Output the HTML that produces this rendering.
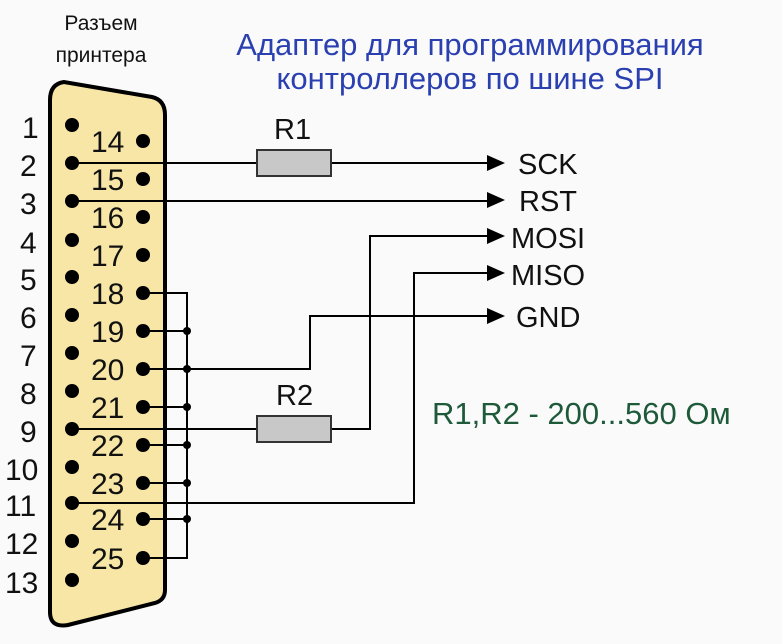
<!DOCTYPE html>
<html><head><meta charset="utf-8"><style>
body{margin:0;background:#fafafa;}
svg{display:block}
text{font-family:"Liberation Sans",sans-serif;}
</style></head><body>
<svg width="782" height="644" viewBox="0 0 782 644">
<rect width="782" height="644" fill="#fafafa"/>
<text x="101" y="30" font-size="21" text-anchor="middle" fill="#111">Разъем</text>
<text x="101" y="62" font-size="21" text-anchor="middle" fill="#111">принтера</text>
<text x="470" y="55" font-size="31" text-anchor="middle" fill="#2a3fb0">Адаптер для программирования</text>
<text x="470" y="89" font-size="31" text-anchor="middle" fill="#2a3fb0">контроллеров по шине SPI</text>
<path d="M50,100 Q50,84 64,82 L152,97 Q165,100 165,115 L165,590 Q165,600 155,603 L68,625 Q50,628 50,612 Z" fill="#f7e6a6" stroke="#000" stroke-width="4"/>
<g font-size="30" fill="#111">
<text x="22" y="138">1</text><text x="20" y="176">2</text><text x="20" y="214">3</text><text x="20" y="253">4</text><text x="20" y="290">5</text><text x="20" y="328">6</text><text x="20" y="366">7</text><text x="20" y="404">8</text><text x="20" y="442">9</text><text x="5" y="480">10</text><text x="5" y="516">11</text><text x="5" y="554">12</text><text x="5" y="593">13</text>
<text x="91" y="152">14</text><text x="91" y="190">15</text><text x="91" y="228">16</text><text x="91" y="266">17</text><text x="91" y="304">18</text><text x="91" y="342">19</text><text x="91" y="380">20</text><text x="91" y="418">21</text><text x="91" y="456">22</text><text x="91" y="494">23</text><text x="91" y="530">24</text><text x="91" y="569">25</text>
</g>
<g fill="#000">
<circle cx="72" cy="125" r="7"/><circle cx="72" cy="163" r="7"/><circle cx="72" cy="201" r="7"/><circle cx="72" cy="240" r="7"/><circle cx="72" cy="277" r="7"/><circle cx="72" cy="315" r="7"/><circle cx="72" cy="353" r="7"/><circle cx="72" cy="391" r="7"/><circle cx="72" cy="429" r="7"/><circle cx="72" cy="467" r="7"/><circle cx="72" cy="503" r="7"/><circle cx="72" cy="541" r="7"/><circle cx="72" cy="580" r="7"/>
<circle cx="143" cy="141" r="7"/><circle cx="143" cy="179" r="7"/><circle cx="143" cy="217" r="7"/><circle cx="143" cy="255" r="7"/><circle cx="143" cy="293" r="7"/><circle cx="143" cy="331" r="7"/><circle cx="143" cy="369" r="7"/><circle cx="143" cy="407" r="7"/><circle cx="143" cy="445" r="7"/><circle cx="143" cy="483" r="7"/><circle cx="143" cy="519" r="7"/><circle cx="143" cy="558" r="7"/>
<circle cx="187" cy="331" r="4"/><circle cx="187" cy="369" r="4"/><circle cx="187" cy="407" r="4"/><circle cx="187" cy="445" r="4"/><circle cx="187" cy="483" r="4"/><circle cx="187" cy="519" r="4"/>
</g>
<g stroke="#000" stroke-width="2" fill="none">
<path d="M143,293H187V558H143"/>
<path d="M143,331H187M143,369H187M143,407H187M143,445H187M143,483H187M143,519H187"/>
<path d="M72,163H257M331,163H490"/>
<path d="M72,201H490"/>
<path d="M187,369H310V316H490"/>
<path d="M72,429H257M331,429H370V236H490"/>
<path d="M72,503H414V273H490"/>
</g>
<g fill="#000">
<path d="M505,163L487,155L487,171Z"/><path d="M505,200L487,192L487,208Z"/><path d="M505,236L487,228L487,244Z"/><path d="M505,273L487,265L487,281Z"/><path d="M505,316L487,308L487,324Z"/>
</g>
<rect x="257" y="150" width="74" height="26" fill="#c8c8c8" stroke="#333" stroke-width="2"/>
<rect x="257" y="416" width="74" height="26" fill="#c8c8c8" stroke="#333" stroke-width="2"/>
<g font-size="29" fill="#111">
<text x="274" y="139">R1</text><text x="276" y="405">R2</text>
<text x="518" y="174">SCK</text><text x="519" y="211">RST</text><text x="511" y="248">MOSI</text><text x="511" y="285">MISO</text><text x="516" y="327">GND</text>
</g>
<text x="432" y="424" font-size="31" fill="#1e5a3a">R1,R2 - 200...560 Ом</text>
</svg>
</body></html>
